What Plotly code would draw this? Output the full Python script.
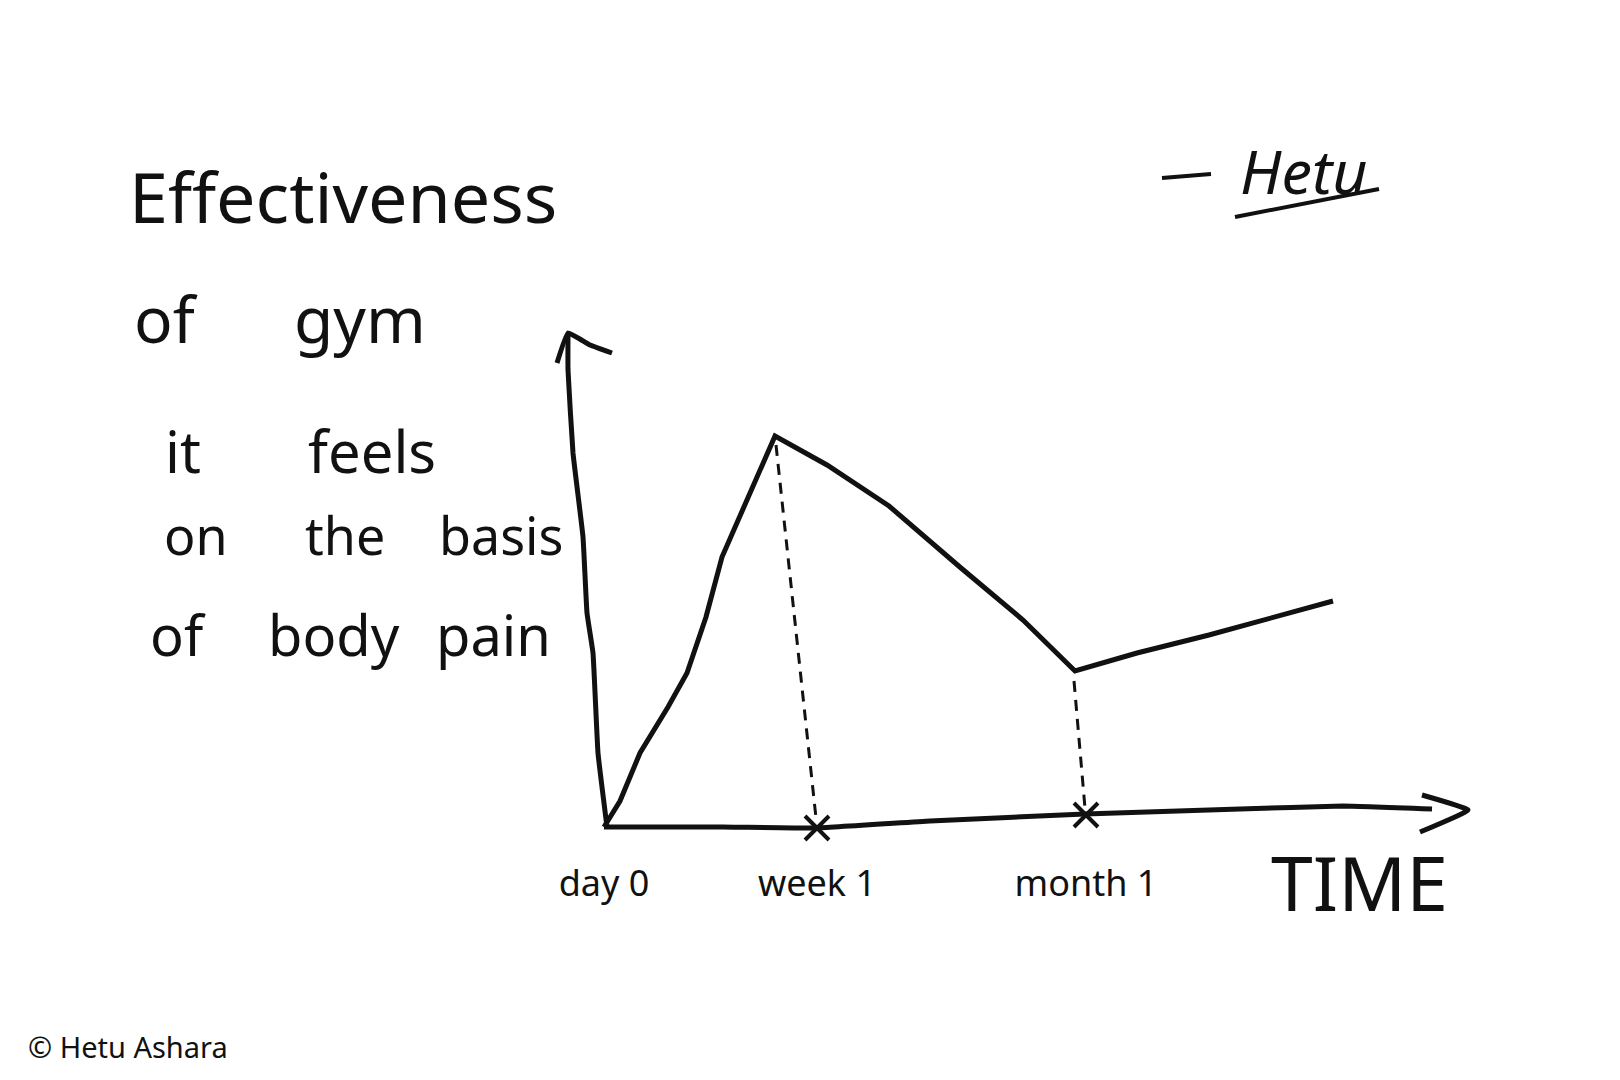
import plotly.graph_objects as go

# ---------------- data (sketch units: 1 unit of time / effectiveness) ----------------
# felt effectiveness curve (time, effectiveness)
curve_t = [0.0, 1.6, 3.6, 6.4, 8.3, 10.2, 11.8, 13.8, 17.1, 22.3, 28.5, 35.7, 41.9, 47.1, 53.3, 60.5, 66.7, 72.9]
curve_e = [0.0, 2.6, 7.4, 12.0, 15.4, 21.0, 27.0, 31.6, 39.1, 36.2, 32.1, 25.9, 20.7, 15.6, 17.4, 19.2, 20.9, 22.6]

# hand-drawn axes
yaxis_t = [0.3, -0.6, -1.1, -1.7, -2.1, -3.1, -3.6, -3.6]
yaxis_e = [0.0, 7.4, 17.4, 21.4, 29.0, 37.4, 45.7, 49.4]
yarrow_t = [-4.7, -3.6, -1.4, 0.8]
yarrow_e = [46.4, 49.4, 48.2, 47.4]
xaxis_t = [0.0, 11.9, 21.2, 32.6, 48.1, 63.6, 73.9, 82.8]
xaxis_e = [0.0, 0.0, -0.1, 0.6, 1.3, 1.8, 2.1, 1.8]
xarrow_t = [81.8, 86.4, 81.6]
xarrow_e = [3.2, 1.7, -0.5]

# milestones on the time axis
tick_t = [0.0, 21.3, 48.2]
tick_labels = ["day 0", "week 1", "month 1"]
marked_t = [21.3, 48.2]
marked_e = [-0.1, 1.2]

# dotted guides from curve points down to milestones
guide1_t = [17.2, 21.2]
guide1_e = [38.2, 0.9]
guide2_t = [47.0, 48.1]
guide2_e = [14.6, 1.9]

# handwritten description, line by line
desc_words = [["Effectiveness"], ["of", "gym"], ["it", "feels"], ["on", "the", "basis"], ["of", "body", "pain"]]

INK = "#111111"
FONT = "Noto Sans"

fig = go.Figure()

def line(xs, ys, width, dash=None):
    fig.add_trace(go.Scatter(x=xs, y=ys, mode="lines", cliponaxis=False,
                             line=dict(color=INK, width=width, dash=dash, shape="spline", smoothing=0.3),
                             hoverinfo="skip", showlegend=False))

line(yaxis_t, yaxis_e, 5)
line(yarrow_t, yarrow_e, 5)
line(xaxis_t, xaxis_e, 5)
line(xarrow_t, xarrow_e, 5)
line(guide1_t, guide1_e, 3, dash="11px,8px")
line(guide2_t, guide2_e, 3, dash="11px,8px")
fig.add_trace(go.Scatter(x=curve_t, y=curve_e, mode="lines", cliponaxis=False,
                         line=dict(color=INK, width=5), hoverinfo="skip", showlegend=False))
fig.add_trace(go.Scatter(x=marked_t, y=marked_e, mode="markers", cliponaxis=False,
                         marker=dict(symbol="x-thin", size=24, line=dict(color=INK, width=4)),
                         hoverinfo="skip", showlegend=False))

W, H, B = 1620, 1080, 223
PH = H - B

def px(x):
    return x / W

def py(y):
    return (PH - y) / PH

# word centres (page px) and font size for each line
word_pos = [([343], 196, 70), ([166, 360], 318, 64), ([183, 372], 450, 58),
            ([196, 345, 501], 534, 52), ([178, 334, 493], 634, 56)]
for words, (xs, y, s) in zip(desc_words, word_pos):
    for w, x in zip(words, xs):
        fig.add_annotation(text=w, x=px(x), y=py(y), xref="paper", yref="paper",
                           xanchor="center", yanchor="middle", showarrow=False,
                           font=dict(family=FONT, size=s, color=INK))

fig.add_annotation(text="TIME", x=px(1269), y=py(882), xref="paper", yref="paper",
                   xanchor="left", yanchor="middle", showarrow=False,
                   font=dict(family=FONT, size=75, color=INK))

# signature
fig.add_annotation(text="<i>Hetu</i>", x=px(1238), y=py(170), xref="paper", yref="paper",
                   xanchor="left", yanchor="middle", showarrow=False,
                   font=dict(family=FONT, size=61, color=INK))
fig.add_shape(type="line", xref="paper", yref="paper", x0=px(1162), y0=py(178), x1=px(1211), y1=py(174),
              line=dict(color=INK, width=4))
fig.add_shape(type="line", xref="paper", yref="paper", x0=px(1235), y0=py(217), x1=px(1379), y1=py(189),
              line=dict(color=INK, width=4))

fig.add_annotation(text="© Hetu Ashara", x=px(26), y=py(1046), xref="paper", yref="paper",
                   xanchor="left", yanchor="middle", showarrow=False,
                   font=dict(family=FONT, size=29, color=INK))

fig.update_layout(
    width=W, height=H,
    margin=dict(l=0, r=0, t=0, b=B),
    paper_bgcolor="#ffffff", plot_bgcolor="#ffffff",
    xaxis=dict(range=[-60.4, 101.6], showgrid=False, zeroline=False, showline=False,
               tickmode="array", tickvals=tick_t, ticktext=tick_labels, ticks="",
               ticklabelstandoff=2, tickfont=dict(family=FONT, size=36, color=INK),
               fixedrange=True),
    yaxis=dict(range=[-3.0, 82.7], showgrid=False, zeroline=False, showline=False,
               showticklabels=False, fixedrange=True),
)

fig.write_html("out.html", config={"displayModeBar": False})
